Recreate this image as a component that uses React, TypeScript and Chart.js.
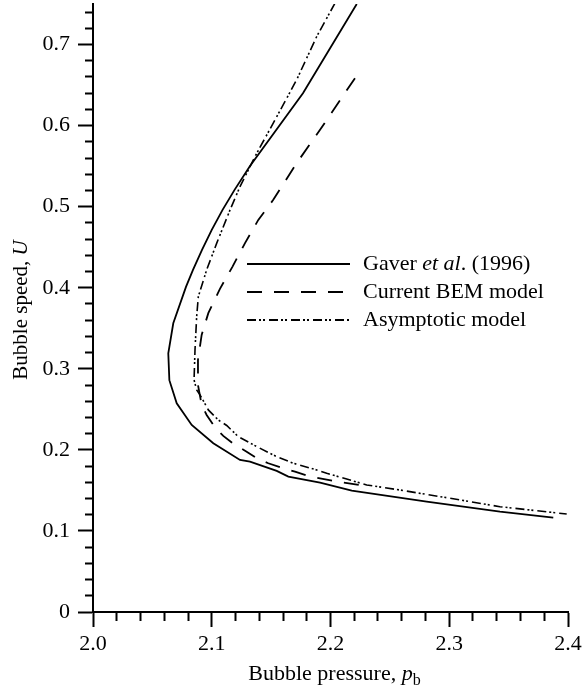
import { useEffect, useRef } from "react";
import { Chart, registerables } from "chart.js";

Chart.register(...registerables);

// Gaver et al. (1996)
const gaverP = [2.2221, 2.1768, 2.1322, 2.1192, 2.1091, 2.1, 2.0918, 2.0842, 2.0783, 2.0676, 2.0634, 2.0643, 2.0705, 2.0831, 2.1013, 2.1238, 2.1322, 2.1547, 2.1645, 2.1912, 2.2179, 2.281, 2.3427, 2.3876];
const gaverU = [0.75, 0.64, 0.5503, 0.5207, 0.496, 0.4714, 0.4467, 0.422, 0.401, 0.3562, 0.319, 0.286, 0.2575, 0.2307, 0.2082, 0.1876, 0.1855, 0.174, 0.167, 0.1596, 0.1497, 0.1361, 0.1238, 0.1164];

// Current BEM model
const bemP = [2.2206, 2.1912, 2.1715, 2.1518, 2.1392, 2.128, 2.1175, 2.1069, 2.0971, 2.0915, 2.0884, 2.0884, 2.0915, 2.0957, 2.1027, 2.1097, 2.1196, 2.1294, 2.1392, 2.1476, 2.1602, 2.1701, 2.1813, 2.2024, 2.2248];
const bemU = [0.6585, 0.5948, 0.5537, 0.5084, 0.4837, 0.455, 0.4261, 0.3986, 0.3686, 0.3418, 0.311, 0.28, 0.2554, 0.2431, 0.2277, 0.2172, 0.2061, 0.1978, 0.1884, 0.1835, 0.1773, 0.1731, 0.1678, 0.1616, 0.1567];

// Asymptotic model
const asymP = [2.2038, 2.1884, 2.1715, 2.1518, 2.1379, 2.1238, 2.1154, 2.1042, 2.0957, 2.0887, 2.0873, 2.0859, 2.0851, 2.0873, 2.0901, 2.0971, 2.1055, 2.1126, 2.1224, 2.1379, 2.1547, 2.1687, 2.1884, 2.1968, 2.2305, 2.2585, 2.3006, 2.3427, 2.3989];
const asymU = [0.7511, 0.7099, 0.6565, 0.603, 0.566, 0.5248, 0.496, 0.455, 0.422, 0.3891, 0.3644, 0.3233, 0.2863, 0.2739, 0.2678, 0.2493, 0.2369, 0.2301, 0.2163, 0.204, 0.1916, 0.1835, 0.1752, 0.1712, 0.1567, 0.1505, 0.1403, 0.1299, 0.1209];

const xMajorTicks = [2.0, 2.1, 2.2, 2.3, 2.4];
const yMajorTicks = [0, 0.1, 0.2, 0.3, 0.4, 0.5, 0.6, 0.7];
const xTickLabels = ["2.0", "2.1", "2.2", "2.3", "2.4"];
const yTickLabels = ["0", "0.1", "0.2", "0.3", "0.4", "0.5", "0.6", "0.7"];

const legendLabels = [
  [{ t: "Gaver ", i: false }, { t: "et al", i: true }, { t: ". (1996)", i: false }],
  [{ t: "Current BEM model", i: false }],
  [{ t: "Asymptotic model", i: false }],
];

const FONT = '"Liberation Serif", "Times New Roman", serif';
const DASHED = [15, 12];
const DASHDOT = [9, 3, 2, 2, 2, 4];
const lineDashes = [[], DASHED, DASHDOT];

const zip = (xs: number[], ys: number[]) => xs.map((x, k) => ({ x, y: ys[k] }));

const findMajor = (arr: number[], v: number) =>
  arr.findIndex((m) => Math.abs(m - v) < 1e-6);

const overlayPlugin = {
  id: "overlayText",
  afterDraw(chart: any) {
    const ctx = chart.ctx as CanvasRenderingContext2D;
    const { left, right, top, bottom } = chart.chartArea;
    ctx.save();
    ctx.fillStyle = "#000";
    ctx.strokeStyle = "#000";
    const fs = 22;
    const reg = `${fs}px ${FONT}`;
    const ita = `italic ${fs}px ${FONT}`;
    const sub = `${Math.round(fs * 0.72)}px ${FONT}`;
    const regY = `21px ${FONT}`;
    const itaY = `italic 21px ${FONT}`;

    // x-axis title
    ctx.textBaseline = "alphabetic";
    ctx.textAlign = "left";
    const xParts = [
      { t: "Bubble pressure, ", f: reg, dy: 0 },
      { t: "p", f: ita, dy: 0 },
      { t: "b", f: sub, dy: 5 },
    ];
    let total = 0;
    xParts.forEach((p) => {
      ctx.font = p.f;
      total += ctx.measureText(p.t).width;
    });
    let cx = (left + right) / 2 + 4 - total / 2;
    const by = bottom + 68;
    xParts.forEach((p) => {
      ctx.font = p.f;
      ctx.fillText(p.t, cx, by + p.dy);
      cx += ctx.measureText(p.t).width;
    });

    // y-axis title
    ctx.save();
    ctx.translate(27, (top + bottom) / 2 + 2);
    ctx.rotate(-Math.PI / 2);
    const yParts = [
      { t: "Bubble speed, ", f: regY },
      { t: "U", f: itaY },
    ];
    total = 0;
    yParts.forEach((p) => {
      ctx.font = p.f;
      total += ctx.measureText(p.t).width;
    });
    let yx = -total / 2;
    yParts.forEach((p) => {
      ctx.font = p.f;
      ctx.fillText(p.t, yx, 0);
      yx += ctx.measureText(p.t).width;
    });
    ctx.restore();

    // legend
    const lx1 = left + 154;
    const lx2 = left + 257;
    const tx = left + 270;
    legendLabels.forEach((segs, k) => {
      const ry = top + 260 + k * 28;
      ctx.save();
      ctx.lineWidth = 1.8;
      ctx.setLineDash(lineDashes[k]);
      ctx.beginPath();
      ctx.moveTo(lx1, ry);
      ctx.lineTo(lx2, ry);
      ctx.stroke();
      ctx.restore();
      ctx.textBaseline = "middle";
      let px = tx;
      segs.forEach((s) => {
        ctx.font = s.i ? ita : reg;
        ctx.fillText(s.t, px, ry);
        px += ctx.measureText(s.t).width;
      });
    });
    ctx.restore();
  },
};

export default function App() {
  const ref = useRef<HTMLCanvasElement | null>(null);
  useEffect(() => {
    if (!ref.current) return;
    const tickFont = { family: FONT, size: 22 };
    const chart = new Chart(ref.current, {
      type: "scatter",
      data: {
        datasets: [
          {
            label: "Gaver et al. (1996)",
            data: zip(gaverP, gaverU),
            showLine: true,
            borderColor: "#000",
            borderWidth: 1.8,
            pointRadius: 0,
            tension: 0,
          },
          {
            label: "Current BEM model",
            data: zip(bemP, bemU),
            showLine: true,
            borderColor: "#000",
            borderWidth: 1.8,
            borderDash: DASHED,
            pointRadius: 0,
            tension: 0,
          },
          {
            label: "Asymptotic model",
            data: zip(asymP, asymU),
            showLine: true,
            borderColor: "#000",
            borderWidth: 1.6,
            borderDash: DASHDOT,
            pointRadius: 0,
            tension: 0,
          },
        ],
      },
      options: {
        animation: false,
        responsive: false,
        maintainAspectRatio: false,
        layout: { padding: { left: 0, top: 4, right: 14, bottom: 0 } },
        plugins: {
          legend: { display: false },
          tooltip: { enabled: false },
          title: { display: false },
        },
        scales: {
          x: {
            type: "linear",
            min: 2.0,
            max: 2.4,
            border: { display: true, color: "#000", width: 2 },
            grid: {
              drawOnChartArea: false,
              drawTicks: true,
              tickLength: 15,
              tickWidth: 2,
              tickColor: "#000",
              tickBorderDash: (c: any) =>
                findMajor(xMajorTicks, c.tick ? c.tick.value : 0) >= 0 ? [] : [8, 100],
            },
            ticks: {
              stepSize: 0.02,
              autoSkip: false,
              maxRotation: 0,
              minRotation: 0,
              includeBounds: false,
              padding: 4,
              color: "#000",
              font: tickFont,
              callback: (v: any) => {
                const k = findMajor(xMajorTicks, Number(v));
                return k >= 0 ? xTickLabels[k] : "";
              },
            },
            afterFit: (s: any) => {
              s.height = 77;
              s.paddingLeft = 0;
              s.paddingRight = 0;
            },
          },
          y: {
            type: "linear",
            min: 0,
            max: 0.75,
            border: { display: true, color: "#000", width: 2 },
            grid: {
              drawOnChartArea: false,
              drawTicks: true,
              tickLength: 15,
              tickWidth: 2,
              tickColor: "#000",
              tickBorderDash: (c: any) =>
                findMajor(yMajorTicks, c.tick ? c.tick.value : 0) >= 0 ? [] : [0, 7, 8, 100],
            },
            ticks: {
              stepSize: 0.02,
              autoSkip: false,
              includeBounds: false,
              padding: 8,
              color: "#000",
              font: tickFont,
              callback: (v: any) => {
                const k = findMajor(yMajorTicks, Number(v));
                return k >= 0 ? yTickLabels[k] : "";
              },
            },
            afterFit: (s: any) => {
              s.width = 93;
              s.paddingTop = 0;
              s.paddingBottom = 0;
            },
          },
        },
      },
      plugins: [overlayPlugin],
    });
    return () => chart.destroy();
  }, []);

  return (
    <div style={{ position: "absolute", left: 0, top: 0, width: 582, height: 689, background: "#fff" }}>
      <canvas ref={ref} width={582} height={689} style={{ display: "block", width: 582, height: 689 }} />
    </div>
  );
}
